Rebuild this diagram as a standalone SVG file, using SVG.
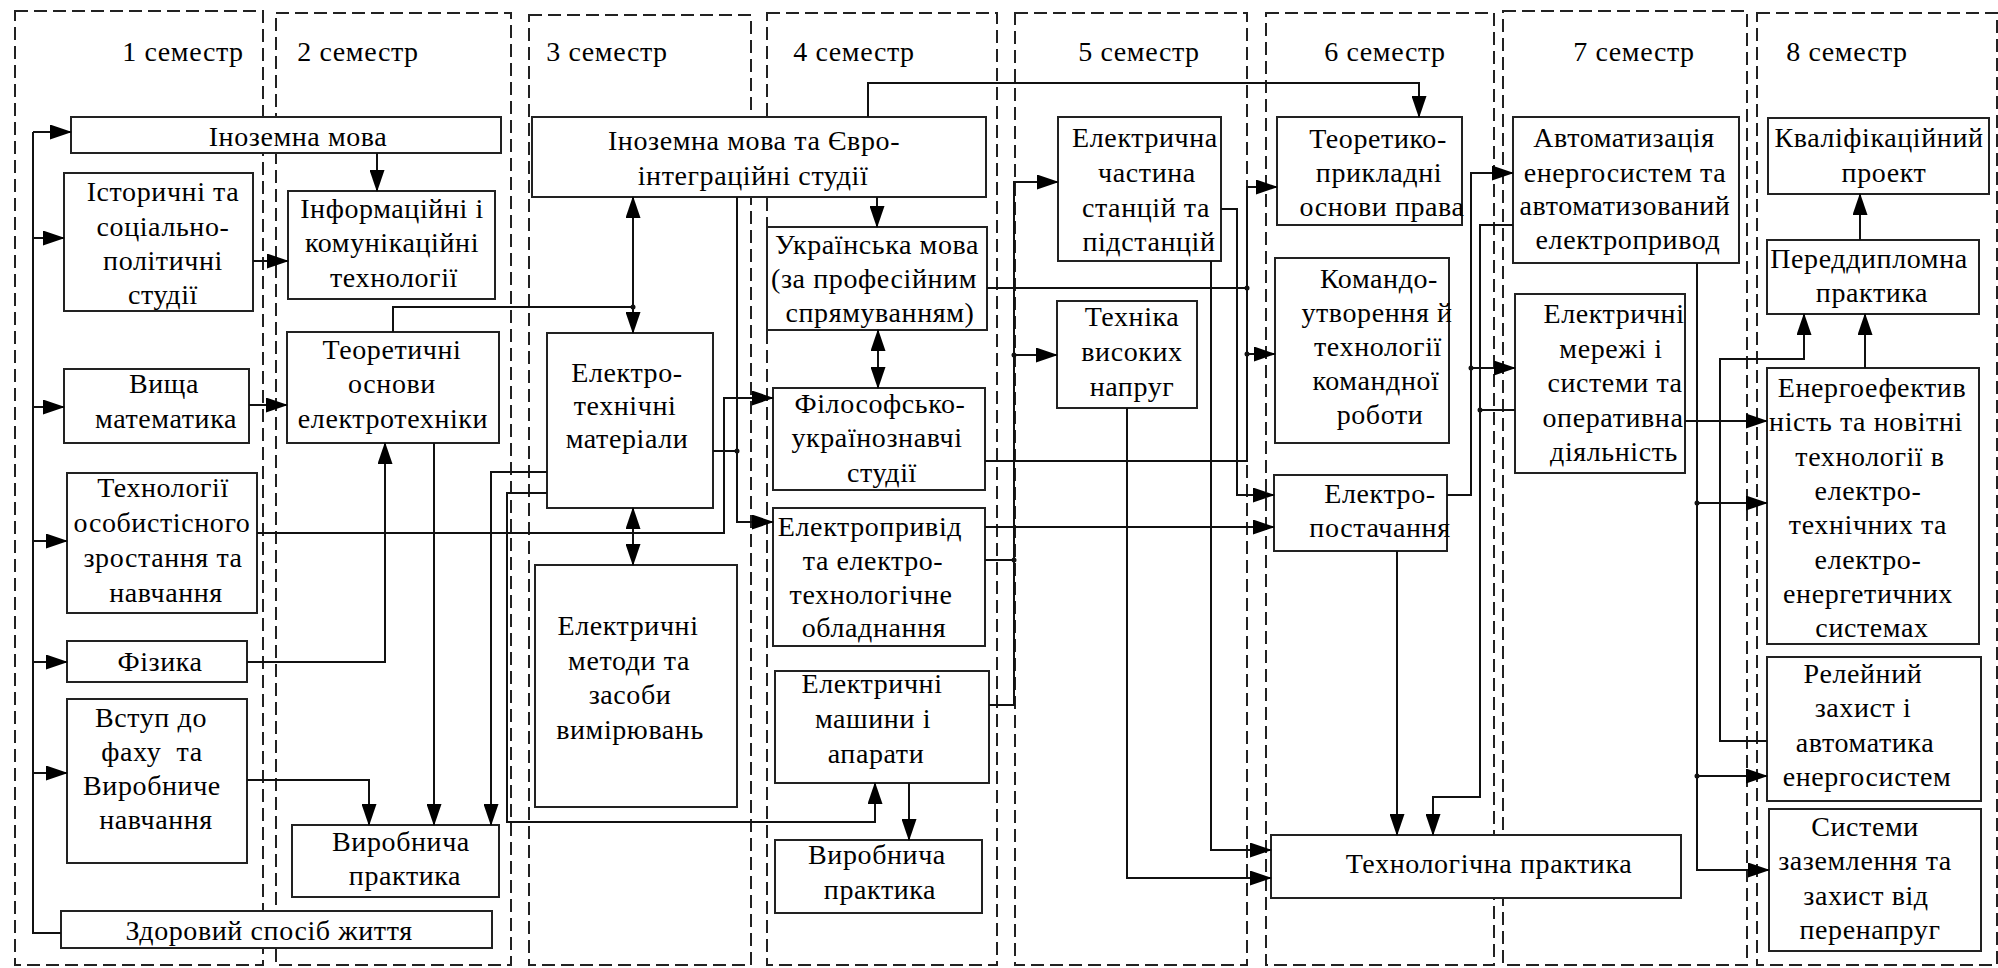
<svg xmlns="http://www.w3.org/2000/svg" width="1998" height="968" viewBox="0 0 1998 968" font-family="Liberation Serif" font-size="28">
<defs>
<style>
.sem{fill:none;stroke:#222;stroke-width:2;stroke-dasharray:13 6}
.box{fill:#fff;stroke:#222;stroke-width:2}
.c{fill:none;stroke:#111;stroke-width:2}
.a{marker-end:url(#ah)}
.d{marker-start:url(#ah);marker-end:url(#ah)}
.dot{fill:#111}
text{fill:#000;text-anchor:middle;letter-spacing:0.6px}
</style>
<marker id="ah" markerUnits="userSpaceOnUse" markerWidth="22" markerHeight="15" refX="21" refY="7.5" orient="auto-start-reverse"><path d="M0,0 L22,7.5 L0,15 z" fill="#000"/></marker>
</defs>
<rect width="1998" height="968" fill="#fff"/>
<g id="semesters">
<g id="sem1"><rect class="sem" x="15" y="11" width="248" height="954"/><text x="183" y="61">1 семестр</text></g>
<g id="sem2"><rect class="sem" x="276" y="13" width="235" height="952"/><text x="358" y="61">2 семестр</text></g>
<g id="sem3"><rect class="sem" x="529" y="15" width="222" height="950"/><text x="607" y="61">3 семестр</text></g>
<g id="sem4"><rect class="sem" x="767" y="13" width="230" height="952"/><text x="854" y="61">4 семестр</text></g>
<g id="sem5"><rect class="sem" x="1015" y="13" width="232" height="952"/><text x="1139" y="61">5 семестр</text></g>
<g id="sem6"><rect class="sem" x="1266" y="13" width="228" height="952"/><text x="1385" y="61">6 семестр</text></g>
<g id="sem7"><rect class="sem" x="1503" y="11" width="244" height="954"/><text x="1634" y="61">7 семестр</text></g>
<g id="sem8"><rect class="sem" x="1757" y="13" width="240" height="952"/><text x="1847" y="61">8 семестр</text></g>
</g>
<g id="nodes">
<g id="n1"><rect class="box" x="71" y="117" width="430" height="36"/><text x="298" y="146">Іноземна мова</text></g>
<g id="n2"><rect class="box" x="64" y="173" width="189" height="138"/><text x="163" y="201">Історичні та</text><text x="163" y="236">соціально-</text><text x="163" y="270">політичні</text><text x="163" y="304">студії</text></g>
<g id="n3"><rect class="box" x="288" y="191" width="207" height="108"/><text x="392" y="218">Інформаційні і</text><text x="392" y="252">комунікаційні</text><text x="394" y="287">технології</text></g>
<g id="n4"><rect class="box" x="287" y="332" width="212" height="111"/><text x="392" y="359">Теоретичні</text><text x="392" y="393">основи</text><text x="393" y="428">електротехніки</text></g>
<g id="n5"><rect class="box" x="64" y="369" width="185" height="74"/><text x="164" y="393">Вища</text><text x="166" y="428">математика</text></g>
<g id="n6"><rect class="box" x="67" y="473" width="190" height="140"/><text x="163" y="497">Технології</text><text x="162" y="532">особистісного</text><text x="163" y="567">зростання та</text><text x="166" y="602">навчання</text></g>
<g id="n7"><rect class="box" x="67" y="641" width="180" height="41"/><text x="160" y="671">Фізика</text></g>
<g id="n8"><rect class="box" x="67" y="699" width="180" height="164"/><text x="151" y="727">Вступ до</text><text x="152" y="761" xml:space="preserve">фаху  та</text><text x="152" y="795">Виробниче</text><text x="156" y="829">навчання</text></g>
<g id="n9"><rect class="box" x="292" y="825" width="207" height="72"/><text x="401" y="851">Виробнича</text><text x="405" y="885">практика</text></g>
<g id="n10"><rect class="box" x="61" y="911" width="431" height="37"/><text x="269" y="940">Здоровий спосіб життя</text></g>
<g id="n11"><rect class="box" x="532" y="117" width="454" height="80"/><text x="754" y="150">Іноземна мова та Євро-</text><text x="753" y="185">інтеграційні студії</text></g>
<g id="n12"><rect class="box" x="547" y="333" width="166" height="175"/><text x="627" y="382">Електро-</text><text x="625" y="415">технічні</text><text x="627" y="448">матеріали</text></g>
<g id="n13"><rect class="box" x="535" y="565" width="202" height="242"/><text x="628" y="635">Електричні</text><text x="629" y="670">методи та</text><text x="630" y="704">засоби</text><text x="630" y="739">вимірювань</text></g>
<g id="n14"><rect class="box" x="767" y="227" width="220" height="103"/><text x="877" y="254">Українська мова</text><text x="874" y="288">(за професійним</text><text x="880" y="322">спрямуванням)</text></g>
<g id="n15"><rect class="box" x="773" y="388" width="212" height="102"/><text x="880" y="413">Філософсько-</text><text x="877" y="447">українознавчі</text><text x="882" y="482">студії</text></g>
<g id="n16"><rect class="box" x="773" y="508" width="212" height="138"/><text x="870" y="536">Електропривід</text><text x="873" y="570">та електро-</text><text x="871" y="604">технологічне</text><text x="874" y="637">обладнання</text></g>
<g id="n17"><rect class="box" x="775" y="671" width="214" height="112"/><text x="872" y="693">Електричні</text><text x="873" y="728">машини і</text><text x="876" y="763">апарати</text></g>
<g id="n18"><rect class="box" x="775" y="840" width="207" height="73"/><text x="877" y="864">Виробнича</text><text x="880" y="899">практика</text></g>
<g id="n19"><rect class="box" x="1058" y="117" width="163" height="144"/><text x="1145" y="147">Електрична</text><text x="1147" y="182">частина</text><text x="1146" y="217">станцій та</text><text x="1149" y="251">підстанцій</text></g>
<g id="n20"><rect class="box" x="1057" y="301" width="140" height="107"/><text x="1132" y="326">Техніка</text><text x="1132" y="361">високих</text><text x="1132" y="396">напруг</text></g>
<g id="n21"><rect class="box" x="1277" y="117" width="185" height="108"/><text x="1378" y="148">Теоретико-</text><text x="1379" y="182">прикладні</text><text x="1382" y="216">основи права</text></g>
<g id="n22"><rect class="box" x="1275" y="258" width="174" height="185"/><text x="1379" y="288">Командо-</text><text x="1377" y="322">утворення й</text><text x="1378" y="356">технології</text><text x="1376" y="390">командної</text><text x="1380" y="424">роботи</text></g>
<g id="n23"><rect class="box" x="1274" y="475" width="173" height="76"/><text x="1380" y="503">Електро-</text><text x="1380" y="537">постачання</text></g>
<g id="n24"><rect class="box" x="1271" y="835" width="410" height="63"/><text x="1489" y="873">Технологічна практика</text></g>
<g id="n25"><rect class="box" x="1513" y="117" width="226" height="146"/><text x="1624" y="147">Автоматизація</text><text x="1625" y="182">енергосистем та</text><text x="1625" y="215">автоматизований</text><text x="1628" y="249">електропривод</text></g>
<g id="n26"><rect class="box" x="1515" y="294" width="170" height="179"/><text x="1614" y="323">Електричні</text><text x="1611" y="358">мережі і</text><text x="1615" y="392">системи та</text><text x="1613" y="427">оперативна</text><text x="1614" y="461">діяльність</text></g>
<g id="n27"><rect class="box" x="1768" y="118" width="221" height="76"/><text x="1879" y="147">Кваліфікаційний</text><text x="1884" y="182">проект</text></g>
<g id="n28"><rect class="box" x="1767" y="240" width="212" height="74"/><text x="1869" y="268">Переддипломна</text><text x="1872" y="302">практика</text></g>
<g id="n29"><rect class="box" x="1767" y="368" width="212" height="276"/><text x="1872" y="397">Енергоефектив</text><text x="1866" y="431">ність та новітні</text><text x="1870" y="466">технології в</text><text x="1868" y="500">електро-</text><text x="1868" y="534">технічних та</text><text x="1868" y="569">електро-</text><text x="1868" y="603">енергетичних</text><text x="1872" y="637">системах</text></g>
<g id="n30"><rect class="box" x="1767" y="657" width="214" height="144"/><text x="1863" y="683">Релейний</text><text x="1863" y="717">захист і</text><text x="1865" y="752">автоматика</text><text x="1867" y="786">енергосистем</text></g>
<g id="n31"><rect class="box" x="1769" y="809" width="212" height="142"/><text x="1865" y="836">Системи</text><text x="1865" y="870">заземлення та</text><text x="1866" y="905">захист від</text><text x="1870" y="939">перенапруг</text></g>
</g>
<g id="connectors">
<path class="c" d="M61,933 H33 V132"/>
<path class="c a" d="M33,132 H71"/>
<path class="c a" d="M33,238 H64"/>
<path class="c a" d="M33,407 H64"/>
<path class="c a" d="M33,541 H67"/>
<path class="c a" d="M33,662 H67"/>
<path class="c a" d="M33,773 H67"/>
<path class="c a" d="M377,153 V191"/>
<path class="c a" d="M253,261 H288"/>
<path class="c a" d="M249,405 H287"/>
<path class="c a" d="M247,662 H385 V443"/>
<path class="c a" d="M434,443 V825"/>
<path class="c a" d="M247,780 H369 V825"/>
<path class="c a" d="M547,472 H491 V825"/>
<path class="c a" d="M547,493 H507 V822 H875 V783"/>
<path class="c a" d="M393,332 V307 H633 V333"/>
<path class="c a" d="M633,307 V197"/>
<path class="c d" d="M633,508 V565"/>
<path class="c a" d="M877,197 V227"/>
<path class="c d" d="M878,330 V388"/>
<path class="c a" d="M868,117 V83 H1419 V117"/>
<path class="c a" d="M257,533 H724 V398 H773"/>
<path class="c a" d="M737,197 V522 H773"/>
<path class="c" d="M713,451 H737"/>
<path class="c a" d="M909,783 V840"/>
<path class="c a" d="M985,527 H1274"/>
<path class="c" d="M985,560 H1014"/>
<path class="c a" d="M989,705 H1014 V182 H1058"/>
<path class="c a" d="M1014,355 H1057"/>
<path class="c" d="M987,288 H1247"/>
<path class="c a" d="M985,461 H1247 V187 H1277"/>
<path class="c a" d="M1247,354 H1275"/>
<path class="c a" d="M1221,209 H1237 V495 H1274"/>
<path class="c a" d="M1211,261 V850 H1271"/>
<path class="c a" d="M1127,408 V878 H1271"/>
<path class="c a" d="M1397,551 V835"/>
<path class="c a" d="M1447,495 H1471 V173 H1513"/>
<path class="c a" d="M1471,368 H1515"/>
<path class="c a" d="M1513,225 H1480 V797 H1433 V835"/>
<path class="c" d="M1515,410 H1480"/>
<path class="c a" d="M1697,263 V870 H1769"/>
<path class="c a" d="M1697,503 H1767"/>
<path class="c a" d="M1697,776 H1767"/>
<path class="c a" d="M1685,421 H1767"/>
<path class="c a" d="M1767,741 H1720 V359 H1804 V314"/>
<path class="c a" d="M1865,368 V314"/>
<path class="c a" d="M1860,240 V194"/>
<circle class="dot" cx="1014" cy="560" r="2.5"/>
<circle class="dot" cx="1014" cy="355" r="2.5"/>
<circle class="dot" cx="1247" cy="288" r="2.5"/>
<circle class="dot" cx="1247" cy="354" r="2.5"/>
<circle class="dot" cx="1480" cy="410" r="2.5"/>
<circle class="dot" cx="1471" cy="368" r="2.5"/>
<circle class="dot" cx="633" cy="307" r="2.5"/>
<circle class="dot" cx="737" cy="451" r="2.5"/>
<circle class="dot" cx="1697" cy="503" r="2.5"/>
<circle class="dot" cx="1697" cy="776" r="2.5"/>
</g>
</svg>
